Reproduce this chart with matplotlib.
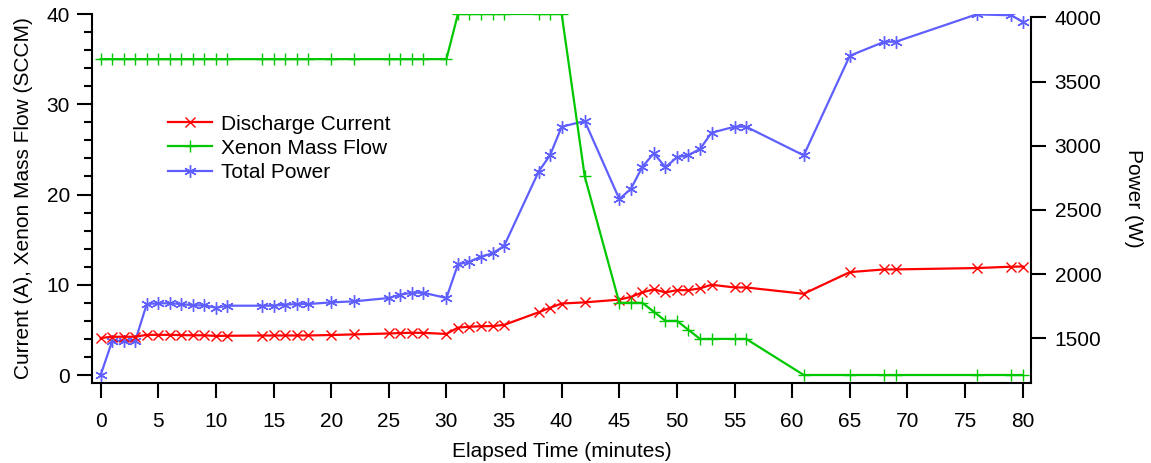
import numpy as np
import matplotlib
matplotlib.use("Agg")
import matplotlib.pyplot as plt
from matplotlib.ticker import MultipleLocator

plt.rcParams['font.family'] = ['Liberation Sans', 'DejaVu Sans']

# elapsed time (minutes)
t = [0, 1, 2, 3, 4, 5, 6, 7, 8, 9, 10, 11, 14, 15, 16, 17, 18, 20, 22, 25, 26, 27, 28,
     30, 31, 32, 33, 34, 35, 38, 39, 40, 42, 45, 46, 47, 48, 49, 50, 51, 52, 53, 55, 56,
     61, 65, 68, 69, 76, 79, 80]

# discharge current (A)
current = [4.10, 4.24, 4.24, 4.24, 4.45, 4.45, 4.45, 4.42, 4.40, 4.40, 4.33, 4.35, 4.37,
           4.38, 4.38, 4.38, 4.38, 4.43, 4.50, 4.60, 4.65, 4.68, 4.67,
           4.55, 5.25, 5.35, 5.40, 5.42, 5.55, 6.95, 7.45, 7.92, 8.05, 8.35, 8.65, 9.15,
           9.50, 9.15, 9.40, 9.40, 9.60, 10.0, 9.70, 9.70,
           9.00, 11.4, 11.7, 11.7, 11.85, 12.0, 12.02]

# xenon mass flow (SCCM)
flow = [35, 35, 35, 35, 35, 35, 35, 35, 35, 35, 35, 35, 35, 35, 35, 35, 35, 35, 35, 35, 35, 35, 35,
        35, 40, 40, 40, 40, 40, 40, 40, 40, 22, 8, 8, 8, 7, 6, 6, 5, 4, 4, 4, 4,
        0, 0, 0, 0, 0, 0, 0]

# total power (W)
power = [1214, 1479, 1479, 1479, 1767, 1773, 1773, 1767, 1757, 1757, 1738, 1754, 1754,
         1754, 1762, 1767, 1767, 1780, 1788, 1814, 1840, 1855, 1855,
         1814, 2076, 2097, 2136, 2162, 2219, 2798, 2928, 3148, 3192, 2585, 2663, 2836,
         2941, 2832, 2910, 2928, 2974, 3101, 3148, 3148,
         2925, 3701, 3810, 3810, 4023, 4016, 3966]

red = '#ff0000'
green = '#00c800'
blue = '#5f5fff'
fs = 15

fig = plt.figure(figsize=(11.51, 4.63), dpi=100)
ax = fig.add_axes([92 / 1151, 1 - 383 / 463, (1031 - 92) / 1151, (383 - 14) / 463])
ax2 = ax.twinx()
ax.set_zorder(ax2.get_zorder() + 1)
ax.patch.set_visible(False)

l3, = ax2.plot(t, power, color=blue, lw=1.6, marker=(6, 2, 0), ms=9, mew=1.0,
               label='Total Power')
l1, = ax.plot(t, current, color=red, lw=1.6, marker='x', ms=7, mew=1.0,
              label='Discharge Current')
l2, = ax.plot(t, flow, color=green, lw=1.6, marker='+', ms=9, mew=1.0,
              label='Xenon Mass Flow')

ax.set_xlim(-0.75, 80.72)
ax.set_ylim(-0.886, 40)
ax2.set_ylim(1152, 4026)

ax.xaxis.set_major_locator(MultipleLocator(5))
ax.yaxis.set_major_locator(MultipleLocator(10))
ax.yaxis.set_minor_locator(MultipleLocator(2))
ax2.set_yticks([1500, 2000, 2500, 3000, 3500, 4000])

for a in (ax, ax2):
    a.spines['top'].set_visible(False)
    for s in a.spines.values():
        s.set_linewidth(1.5)
ax.spines['right'].set_visible(False)
ax2.spines['left'].set_visible(False)
ax2.spines['bottom'].set_visible(False)
ax2.spines['right'].set_bounds(1152, 4000)

ax.tick_params(axis='x', direction='out', length=11, width=1.5, pad=10, labelsize=fs)
ax.tick_params(axis='y', which='major', direction='out', length=11, width=1.5, pad=5,
               labelsize=fs)
ax.tick_params(axis='y', which='minor', direction='out', length=5.5, width=1.5)
ax2.tick_params(axis='y', direction='out', length=11, width=1.5, pad=6, labelsize=fs)

ax.set_xlabel('Elapsed Time (minutes)', fontsize=fs, labelpad=8)
ax.set_ylabel('Current (A), Xenon Mass Flow (SCCM)', fontsize=fs, labelpad=10)
ax2.set_ylabel('Power (W)', fontsize=fs, rotation=270, labelpad=30)

ax.legend(handles=[l1, l2, l3], loc='upper left', bbox_to_anchor=(0.072, 0.75),
          frameon=False, fontsize=fs, handlelength=2.1, handletextpad=0.45,
          labelspacing=0.25, borderaxespad=0)

fig.savefig('out.png', dpi=100)
